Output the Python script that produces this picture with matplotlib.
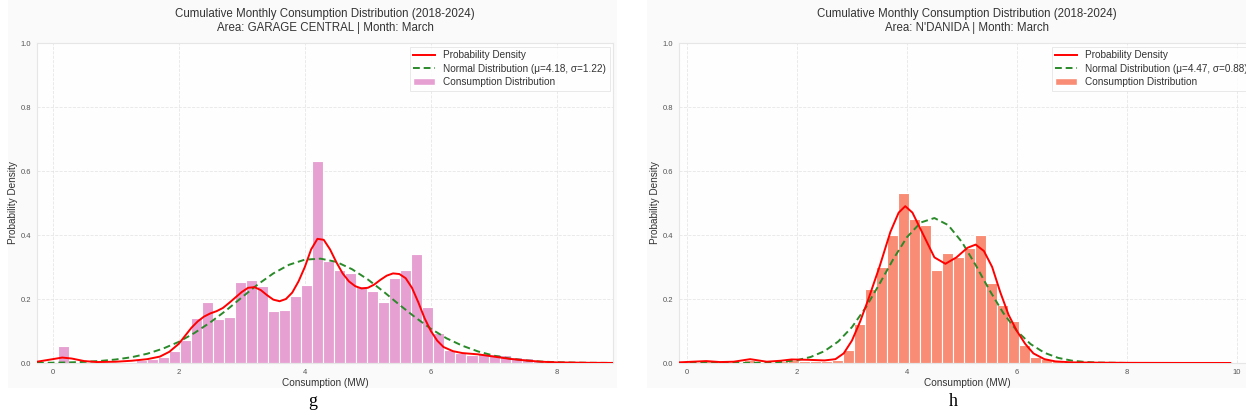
"""Two monthly consumption distributions (March 2018-2024): GARAGE CENTRAL and N'DANIDA."""
import matplotlib
matplotlib.use("Agg")
import matplotlib.pyplot as plt
import numpy as np
from matplotlib.patches import Patch, Rectangle
from matplotlib.lines import Line2D

plt.rcParams["font.family"] = ["Liberation Sans", "DejaVu Sans"]

# ---- panel g: GARAGE CENTRAL ----
g_bin_edges = np.linspace(0.09, 8.84, 51)
g_hist = [0.052, 0.0, 0.0, 0.001, 0.002, 0.003, 0.004, 0.008, 0.012, 0.018,
          0.036, 0.072, 0.14, 0.19, 0.138, 0.143, 0.253, 0.26, 0.24, 0.162,
          0.165, 0.21, 0.245, 0.63, 0.32, 0.29, 0.28, 0.24, 0.225, 0.19,
          0.265, 0.29, 0.34, 0.175, 0.095, 0.04, 0.03, 0.025, 0.03, 0.028,
          0.025, 0.02, 0.015, 0.01, 0.006, 0.004, 0.002, 0.001, 0.001, 0.001]
g_kde_x = [-0.25, 0.0, 0.15, 0.3, 0.5, 0.7, 1.0, 1.25, 1.5, 1.7, 1.85, 2.0, 2.1,
           2.2, 2.3, 2.4, 2.5, 2.6, 2.7, 2.8, 2.9, 3.0, 3.1, 3.2, 3.3, 3.4, 3.5,
           3.6, 3.7, 3.8, 3.9, 4.0, 4.1, 4.2, 4.3, 4.4, 4.5, 4.6, 4.7, 4.8,
           4.9, 5.0, 5.1, 5.2, 5.3, 5.4, 5.5, 5.6, 5.7, 5.8, 5.9, 6.0, 6.1,
           6.2, 6.35, 6.5, 6.75, 7.0, 7.25, 7.5, 7.75, 8.0, 8.5, 8.89]
g_kde_y = [0.004, 0.012, 0.017, 0.014, 0.006, 0.003, 0.004, 0.007, 0.012, 0.02,
           0.035, 0.06, 0.085, 0.11, 0.13, 0.145, 0.155, 0.162, 0.172, 0.188,
           0.205, 0.222, 0.235, 0.237, 0.228, 0.212, 0.198, 0.193, 0.2, 0.22,
           0.255, 0.3, 0.355, 0.388, 0.385, 0.355, 0.315, 0.28, 0.255, 0.24,
           0.233, 0.235, 0.245, 0.26, 0.273, 0.28, 0.278, 0.265, 0.235, 0.19,
           0.14, 0.1, 0.07, 0.05, 0.037, 0.031, 0.027, 0.02, 0.013, 0.008,
           0.004, 0.002, 0.0006, 0.0002]
g_norm_x = [-0.25, 0.0, 0.25, 0.5, 0.75, 1.0, 1.25, 1.5, 1.75, 2.0, 2.25, 2.5,
            2.75, 3.0, 3.25, 3.5, 3.75, 4.0, 4.25, 4.5, 4.75, 5.0, 5.25, 5.5,
            5.75, 6.0, 6.25, 6.5, 6.75, 7.0, 7.25, 7.5, 7.75, 8.0, 8.25, 8.5,
            8.89]
g_norm_y = [0.0004, 0.0009, 0.0018, 0.0035, 0.0063, 0.011, 0.018, 0.029, 0.045,
            0.066, 0.094, 0.127, 0.164, 0.205, 0.245, 0.28, 0.307, 0.323, 0.326,
            0.316, 0.293, 0.261, 0.223, 0.182, 0.143, 0.107, 0.077, 0.054,
            0.036, 0.023, 0.014, 0.008, 0.0045, 0.0024, 0.0013, 0.0006, 0.0002]

# ---- panel h: N'DANIDA ----
h_bin_edges = np.linspace(0.24, 9.84, 49)
h_hist = [0.005, 0.0, 0.0, 0.0, 0.01, 0.0, 0.0, 0.005, 0.01, 0.005,
          0.005, 0.005, 0.01, 0.04, 0.123, 0.23, 0.30, 0.40, 0.53, 0.45,
          0.43, 0.29, 0.345, 0.33, 0.36, 0.40, 0.25, 0.18, 0.13, 0.055,
          0.02, 0.012, 0.005, 0.002, 0.001, 0.001, 0.0, 0.0, 0.0, 0.0,
          0.0, 0.0, 0.0, 0.0, 0.0, 0.0, 0.0, 0.001]
h_kde_x = [-0.145, 0.1, 0.35, 0.6, 0.85, 1.15, 1.45, 1.7, 1.9, 2.2, 2.5, 2.7,
           2.85, 3.0, 3.15, 3.3, 3.5, 3.7, 3.85, 3.97, 4.1, 4.3, 4.5, 4.7,
           4.9, 5.1, 5.25, 5.4, 5.55, 5.7, 5.85, 6.0, 6.15, 6.3, 6.5, 6.7,
           7.0, 7.5, 8.0, 9.0, 9.88]
h_kde_y = [0.002, 0.004, 0.006, 0.003, 0.004, 0.012, 0.004, 0.007, 0.011, 0.01,
           0.008, 0.012, 0.03, 0.07, 0.13, 0.2, 0.3, 0.41, 0.47, 0.49, 0.47,
           0.4, 0.33, 0.31, 0.33, 0.36, 0.37, 0.35, 0.3, 0.22, 0.15, 0.1, 0.06,
           0.03, 0.012, 0.005, 0.002, 0.001, 0.0005, 0.0002, 0.0001]
h_norm_x = [-0.145, 0.5, 1.0, 1.5, 1.75, 2.0, 2.25, 2.5, 2.75, 3.0, 3.25, 3.5,
            3.75, 4.0, 4.25, 4.5, 4.75, 5.0, 5.25, 5.5, 5.75, 6.0, 6.25, 6.5,
            6.75, 7.0, 7.25, 7.5, 8.0, 9.0, 9.88]
h_norm_y = [0.0, 0.0, 0.0002, 0.0015, 0.0038, 0.0088, 0.0188, 0.037, 0.067,
            0.112, 0.173, 0.247, 0.324, 0.393, 0.439, 0.453, 0.431, 0.378,
            0.306, 0.228, 0.157, 0.1, 0.059, 0.032, 0.016, 0.0073, 0.0031,
            0.0012, 0.0001, 0.0, 0.0]

panels = [
    dict(area="GARAGE CENTRAL", mu=4.18, sigma=1.22, edges=g_bin_edges, hist=g_hist,
         kde=(g_kde_x, g_kde_y), norm=(g_norm_x, g_norm_y), color="#e6a0d2",
         xlim=(-0.25, 8.89), xticks=[0, 2, 4, 6, 8], caption="g", cap_x=313,
         rect=[37 / 1246, 54 / 417, 576 / 1246, 320 / 417], bg=(8, 617)),
    dict(area="N'DANIDA", mu=4.47, sigma=0.88, edges=h_bin_edges, hist=h_hist,
         kde=(h_kde_x, h_kde_y), norm=(h_norm_x, h_norm_y), color="#f88c74",
         xlim=(-0.145, 10.33), xticks=[0, 2, 4, 6, 8, 10], caption="h", cap_x=953,
         rect=[679 / 1246, 54 / 417, 576 / 1246, 320 / 417], bg=(647, 1260)),
]

fig = plt.figure(figsize=(12.46, 4.17), dpi=100)
fig.patch.set_facecolor("white")

for p in panels:
    x0, x1 = p["bg"]
    fig.patches.append(Rectangle((x0 / 1246, 29 / 417), (x1 - x0) / 1246, 388 / 417,
                                 transform=fig.transFigure, facecolor="#fafafa",
                                 edgecolor="none", zorder=-5))
    ax = fig.add_axes(p["rect"])
    ax.set_facecolor("#fefefe")
    edges = p["edges"]
    ax.bar(edges[:-1], p["hist"], width=np.diff(edges), align="edge",
           color=p["color"], edgecolor="white", linewidth=0.8, zorder=2)
    ax.plot(*p["kde"], color="red", lw=1.4, zorder=4)
    ax.plot(*p["norm"], color="#2a8a2a", lw=1.4, ls=(0, (3.5, 2)), zorder=3)
    ax.set_xlim(*p["xlim"])
    ax.set_ylim(0, 1.0)
    ax.set_xticks(p["xticks"])
    ax.set_yticks([0.0, 0.2, 0.4, 0.6, 0.8, 1.0])
    ax.tick_params(labelsize=5.5, colors="#555555", length=0, pad=4)
    ax.grid(True, color="#dddddd", lw=0.6, ls="--", alpha=0.7, zorder=0)
    ax.set_axisbelow(True)
    for s in ax.spines.values():
        s.set_color("#e6e6e6")
        s.set_linewidth(0.8)
    ax.set_xlabel("Consumption (MW)", fontsize=7.2, color="#333333", labelpad=2)
    ax.set_ylabel("Probability Density", fontsize=7.2, color="#333333", labelpad=2)
    ax.set_title("Cumulative Monthly Consumption Distribution (2018-2024)\n"
                 f"Area: {p['area']} | Month: March",
                 fontsize=8.3, color="#333333", pad=9, linespacing=1.15)
    handles = [Line2D([], [], color="red", lw=1.4),
               Line2D([], [], color="#2a8a2a", lw=1.4, ls=(0, (3.5, 2))),
               Patch(facecolor=p["color"], edgecolor="white")]
    labels = ["Probability Density",
              f"Normal Distribution (\u03bc={p['mu']:.2f}, \u03c3={p['sigma']:.2f})",
              "Consumption Distribution"]
    leg = ax.legend(handles, labels, loc="upper right", fontsize=7.2,
                    frameon=True, fancybox=False, borderaxespad=0.35,
                    handlelength=2.2, labelspacing=0.35, borderpad=0.35)
    leg.get_frame().set_edgecolor("#e0e0e0")
    leg.get_frame().set_linewidth(0.6)
    for t in leg.get_texts():
        t.set_color("#333333")
    fig.text(p["cap_x"] / 1246, 15 / 417, p["caption"], fontsize=13,
             family="Liberation Serif", ha="center", va="center", color="black")

fig.savefig("out.png", dpi=100, facecolor="white")
